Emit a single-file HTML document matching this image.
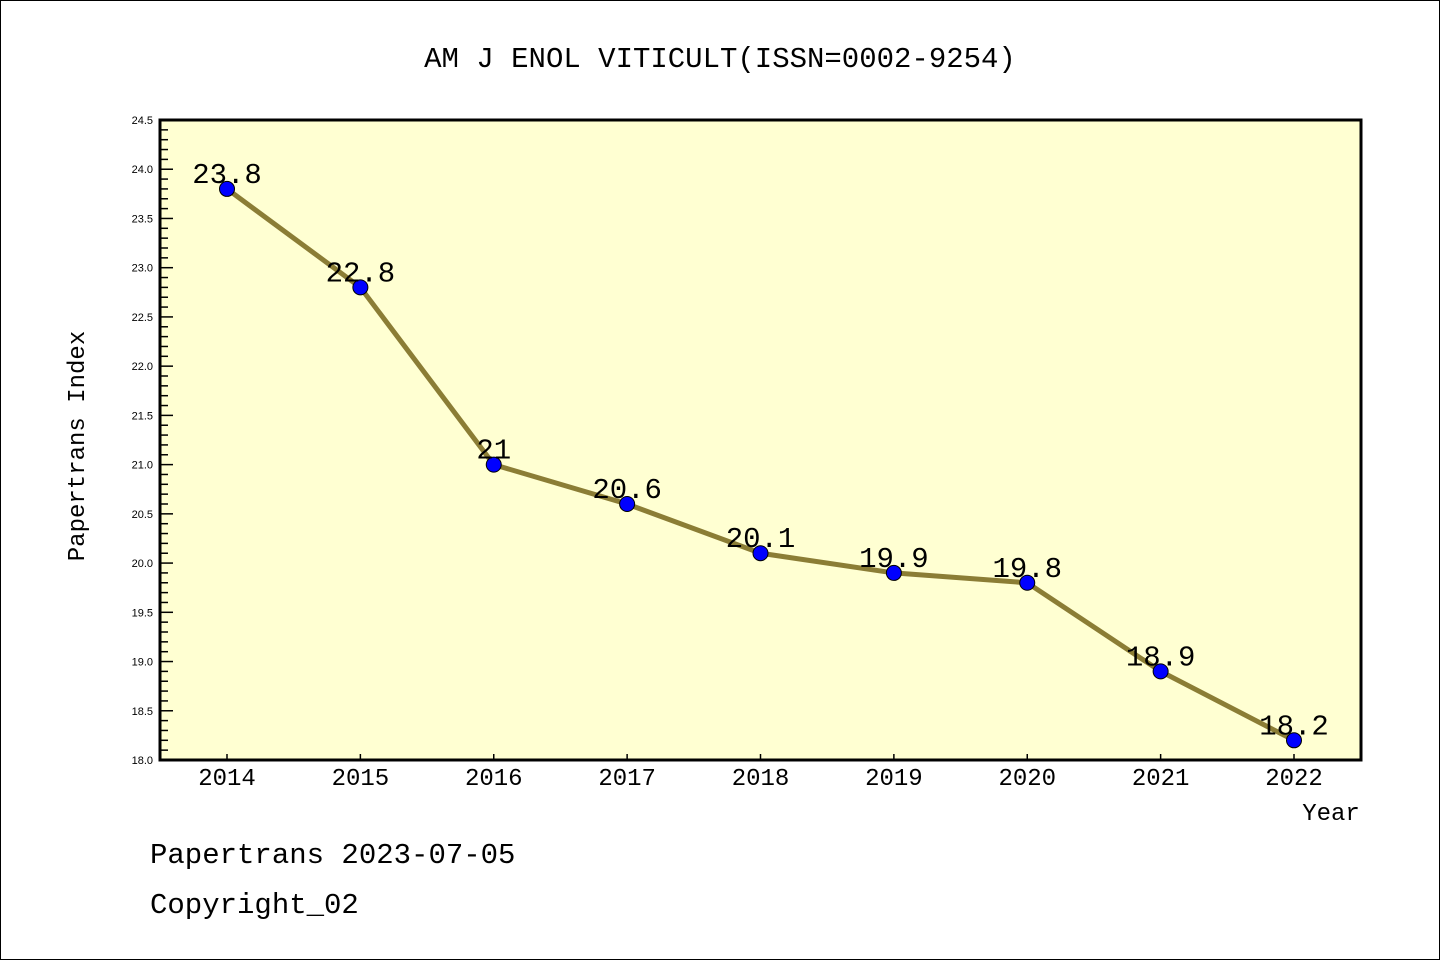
<!DOCTYPE html>
<html><head><meta charset="utf-8"><style>
body{margin:0;background:#fff}
svg{display:block}
text{font-family:"WenQuanYi Zen Hei Mono","Liberation Mono",monospace;fill:#000}
text.small{font-family:"Liberation Sans",sans-serif}
</style></head><body>
<svg width="1440" height="960" viewBox="0 0 1440 960" xmlns="http://www.w3.org/2000/svg">
<rect x="0.5" y="0.5" width="1439" height="959" fill="#fff" stroke="#000"/>
<text x="720" y="67" font-size="29" text-anchor="middle">AM J ENOL VITICULT(ISSN=0002-9254)</text>
<rect x="160" y="120" width="1201" height="640" fill="#ffffd2"/>
<g id="yticks"></g>
<g id="xticks"></g>
<path id="line" fill="none" stroke="#8b7d35" stroke-width="5"/>
<g id="points"></g>
<rect x="160" y="120" width="1201" height="640" fill="none" stroke="#000" stroke-width="3"/>
<text transform="translate(84,446) rotate(-90)" font-size="24" text-anchor="middle">Papertrans Index</text>
<text x="1331" y="820" font-size="24" text-anchor="middle">Year</text>
<text x="150" y="863" font-size="29">Papertrans 2023-07-05</text>
<text x="150" y="913" font-size="29">Copyright_02</text>
</svg>
<script>
const years=[2014,2015,2016,2017,2018,2019,2020,2021,2022];
const values=[23.8,22.8,21,20.6,20.1,19.9,19.8,18.9,18.2];
const yTickLabels=["18.0","18.5","19.0","19.5","20.0","20.5","21.0","21.5","22.0","22.5","23.0","23.5","24.0","24.5"];
(function(){
const NS="http://www.w3.org/2000/svg";
const yMin=18,yMax=24.5,pTop=120,pBot=760;
const y=v=>pBot-(v-yMin)/(yMax-yMin)*(pBot-pTop);
const x=i=>227+i*(1294-227)/(years.length-1);
function mk(t,a,p){const e=document.createElementNS(NS,t);for(const k in a)e.setAttribute(k,a[k]);p.appendChild(e);return e;}
const yt=document.getElementById('yticks');
for(let k=0;k<=65;k++){const v=yMin+k*0.1;const major=k%5===0;
const l=mk('line',{x1:160,x2:major?173:168,y1:y(v),y2:y(v),stroke:'#000','stroke-width':1.5},yt);

}
yTickLabels.forEach(s=>{const t=mk('text',{x:153,y:y(parseFloat(s))+4,'font-size':11,'text-anchor':'end','class':'small'},yt);t.textContent=s;

});
const xt=document.getElementById('xticks');
years.forEach((yr,i)=>{const l=mk('line',{x1:x(i),x2:x(i),y1:760,y2:754,stroke:'#000','stroke-width':1.5},xt);


const t=mk('text',{x:x(i),y:785,'font-size':24,'text-anchor':'middle'},xt);t.textContent=yr;

});
document.getElementById('line').setAttribute('d',values.map((v,i)=>(i?'L':'M')+x(i)+','+y(v)).join(''));
const pg=document.getElementById('points');
values.forEach((v,i)=>{const c=mk('circle',{cx:x(i),cy:y(v),r:7.5,fill:'#0000ff',stroke:'#000','stroke-width':1},pg);


const t=mk('text',{x:x(i),y:y(v)-6,'font-size':29,'text-anchor':'middle'},pg);t.textContent=String(v);

});
})();
</script>
</body></html>
